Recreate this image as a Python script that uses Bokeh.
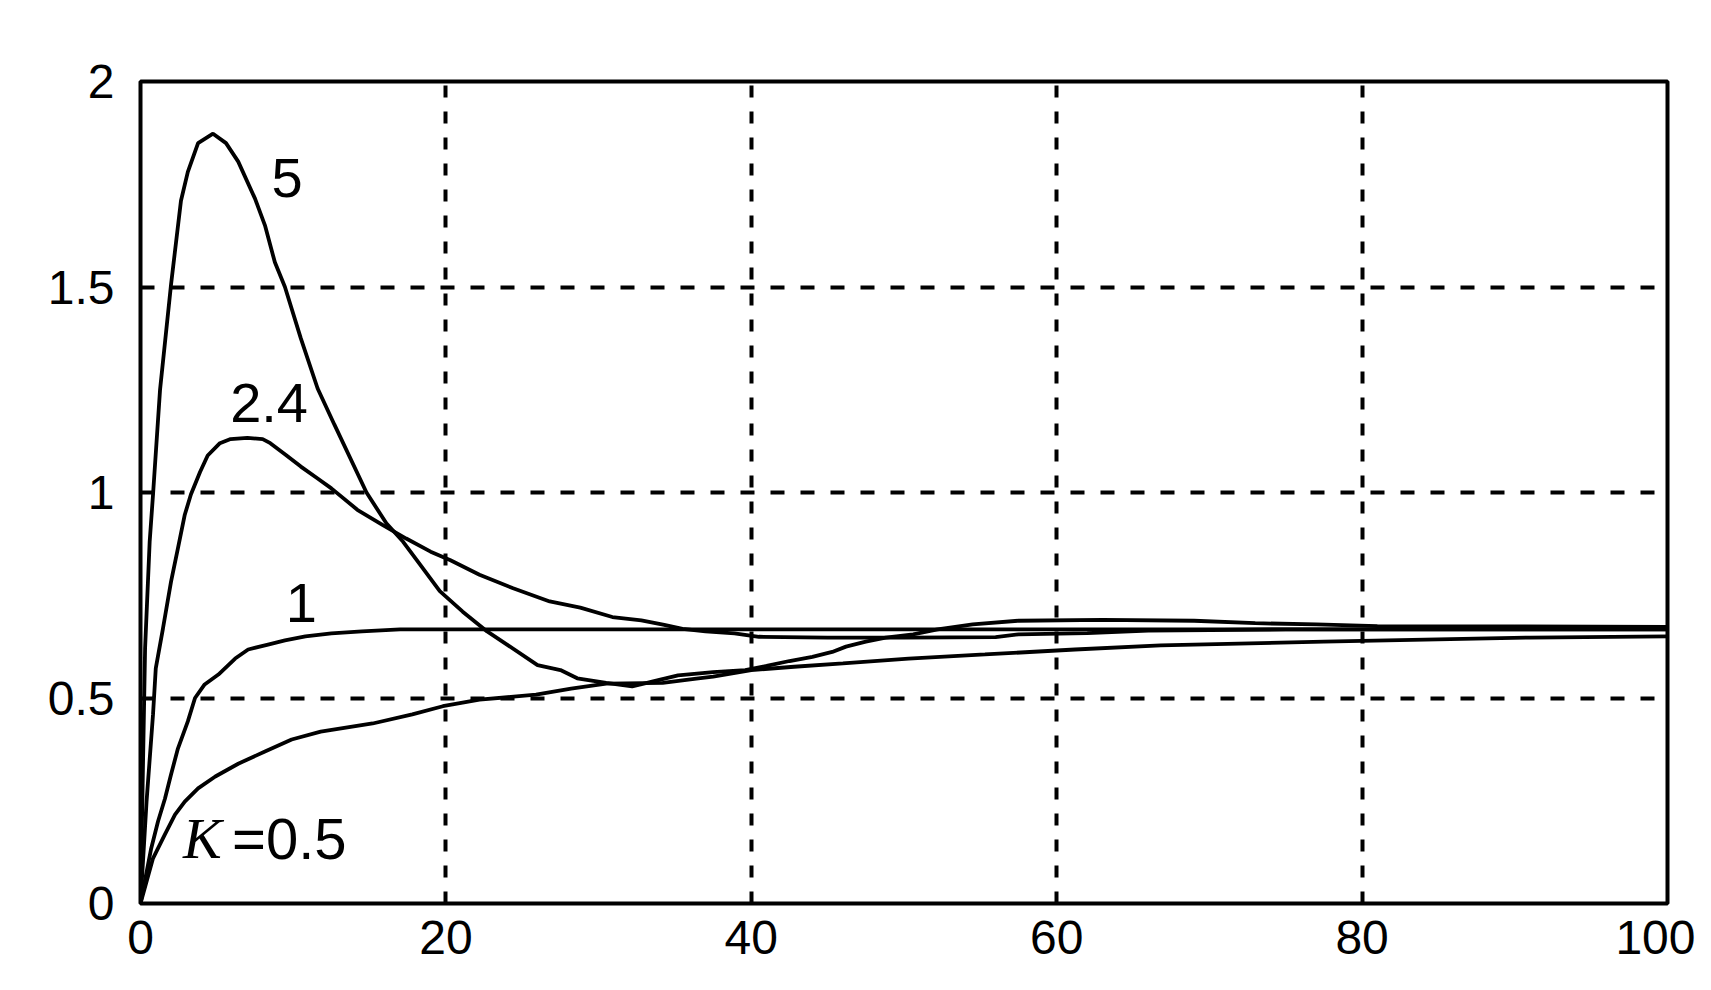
from bokeh.plotting import figure
from bokeh.models import Range1d, FixedTicker
from bokeh.core.properties import value
from bokeh.embed import file_html
from bokeh.resources import INLINE

# ---- data ----
x_ticks = [0, 20, 40, 60, 80, 100]
x_tick_labels = ["0", "20", "40", "60", "80", "100"]
y_ticks = [0, 0.5, 1, 1.5, 2]
y_tick_labels = ["0", "0.5", "1", "1.5", "2"]

k5_x = [0, 0.3, 0.6, 0.82, 1.28, 2.0, 2.65, 3.1, 3.77, 4.75, 5.6, 6.4, 7.5, 8.15, 8.8,
        9.46, 10.5, 11.6, 12.7, 14.8, 16.1, 17.2, 18.3, 19.6, 21.1, 22.7, 24.0, 26.0,
        27.5, 28.6, 30.5, 32.2, 33.5, 35.2, 37.5, 39.6, 41.0, 42.5, 44.0, 45.3, 46.2,
        47.5, 48.8, 50.6, 52.2, 54.5, 57.5, 63.0, 69.0, 73.0, 77.0, 81.0, 90.0, 100.0]
k5_y = [0, 0.62, 0.88, 0.995, 1.25, 1.506, 1.71, 1.78, 1.85, 1.873, 1.85, 1.805, 1.715,
        1.65, 1.56, 1.50, 1.375, 1.253, 1.165, 1.0, 0.925, 0.88, 0.825, 0.76, 0.71, 0.662,
        0.63, 0.58, 0.568, 0.548, 0.537, 0.528, 0.54, 0.555, 0.563, 0.568, 0.578, 0.59,
        0.60, 0.612, 0.625, 0.637, 0.647, 0.655, 0.667, 0.679, 0.688, 0.69, 0.688, 0.682,
        0.679, 0.675, 0.674, 0.673]

k24_x = [0, 0.4, 0.82, 1.0, 1.47, 2.0, 2.45, 2.9, 3.3, 3.9, 4.4, 5.2, 5.9, 7.0, 8.0, 8.5,
         9.5, 10.5, 11.6, 12.5, 14.2, 15.9, 17.4, 19.0, 20.3, 22.2, 24.4, 26.8, 28.8, 30.9,
         32.8, 34.3, 35.5, 37.0, 38.9, 40.5, 45.0, 50.0, 56.0, 57.5, 62.0, 66.0, 75.0, 100.0]
k24_y = [0, 0.25, 0.46, 0.572, 0.669, 0.783, 0.864, 0.946, 0.995, 1.05, 1.09, 1.12, 1.13,
         1.133, 1.13, 1.12, 1.092, 1.063, 1.034, 1.01, 0.958, 0.92, 0.888, 0.856, 0.835,
         0.80, 0.767, 0.735, 0.72, 0.697, 0.689, 0.678, 0.668, 0.662, 0.657, 0.649, 0.647,
         0.647, 0.648, 0.655, 0.658, 0.664, 0.667, 0.667]

k1_x = [0, 0.7, 1.15, 1.6, 2.0, 2.45, 3.1, 3.57, 4.2, 5.1, 6.2, 7.05, 8.35, 9.46, 10.8,
        12.5, 14.5, 17.0, 100.0]
k1_y = [0, 0.134, 0.2, 0.255, 0.314, 0.377, 0.443, 0.5, 0.533, 0.557, 0.596, 0.618, 0.63,
        0.64, 0.65, 0.657, 0.662, 0.667, 0.667]

k05_x = [0, 0.82, 1.6, 2.26, 2.9, 3.77, 4.9, 6.4, 8.15, 9.9, 11.8, 15.2, 17.8, 19.8, 22.2,
         25.9, 28.2, 30.5, 34.2, 36.4, 37.5, 40.0, 42.8, 46.0, 50.3, 55.3, 61.2, 66.8, 77.5,
         91.0, 100.0]
k05_y = [0, 0.11, 0.168, 0.216, 0.248, 0.28, 0.309, 0.34, 0.37, 0.399, 0.418, 0.438, 0.46,
         0.48, 0.496, 0.508, 0.523, 0.535, 0.537, 0.547, 0.552, 0.568, 0.576, 0.584, 0.596,
         0.606, 0.618, 0.628, 0.637, 0.647, 0.65]

curve_labels = ["5", "2.4", "1"]
curve_label_x = [9.6, 8.42, 10.54]
curve_label_y = [1.764, 1.218, 0.732]
k_label = "K"
k_value_label = "=0.5"

# ---- figure ----
p = figure(frame_width=1527, frame_height=822,
           min_border_left=140, min_border_right=28,
           min_border_top=81, min_border_bottom=72,
           x_range=Range1d(0, 100), y_range=Range1d(0, 2),
           output_backend="svg", toolbar_location=None)
p.background_fill_color = "white"
p.border_fill_color = "white"
p.outline_line_color = "black"
p.outline_line_width = 4
p.outline_line_alpha = 1.0

xt = FixedTicker(ticks=x_ticks)
yt = FixedTicker(ticks=y_ticks)
p.xaxis.ticker = xt
p.yaxis.ticker = yt
p.xgrid.ticker = xt
p.ygrid.ticker = yt
p.xaxis.major_label_overrides = {float(t): l for t, l in zip(x_ticks, x_tick_labels)}
p.yaxis.major_label_overrides = {float(t): l for t, l in zip(y_ticks, y_tick_labels)}

for ax in (p.xaxis, p.yaxis):
    ax.axis_line_color = None
    ax.major_tick_line_color = None
    ax.minor_tick_line_color = None
    ax.major_tick_out = 0
    ax.major_tick_in = 0
    ax.major_label_text_font = "Liberation Sans"
    ax.major_label_text_font_size = "48px"
    ax.major_label_text_color = "black"
p.xaxis.major_label_standoff = 17
p.yaxis.major_label_standoff = 26

p.xgrid.grid_line_color = "black"
p.xgrid.grid_line_width = 4
p.xgrid.grid_line_dash = "12 14"
p.xgrid.grid_line_alpha = 1.0
p.ygrid.grid_line_color = "black"
p.ygrid.grid_line_width = 4
p.ygrid.grid_line_dash = "14 16"
p.ygrid.grid_line_alpha = 1.0

for xs, ys in ((k05_x, k05_y), (k1_x, k1_y), (k24_x, k24_y), (k5_x, k5_y)):
    p.line(xs, ys, line_color="black", line_width=3.8)

p.text(x=curve_label_x, y=curve_label_y, text=curve_labels,
       text_font=value("Liberation Sans"), text_font_size=value("56px"),
       text_color="black", text_align="center", text_baseline="middle")
p.text(x=[2.78], y=[0.157], text=[k_label],
       text_font=value("Liberation Serif"), text_font_style="italic",
       text_font_size=value("58px"), text_color="black",
       text_align="left", text_baseline="middle")
p.text(x=[6.0], y=[0.157], text=[k_value_label],
       text_font=value("Liberation Sans"), text_font_size=value("58px"),
       text_color="black", text_align="left", text_baseline="middle")

open("out.html", "w").write(file_html(p, INLINE))
